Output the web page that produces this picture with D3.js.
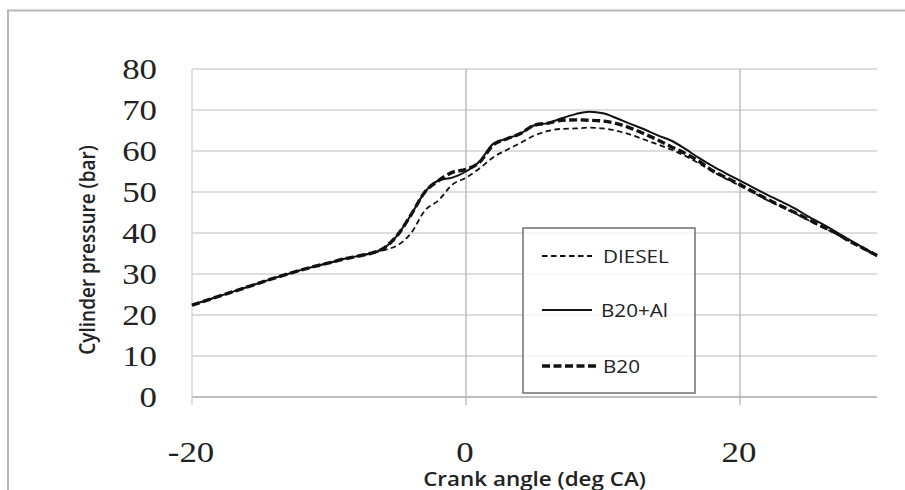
<!DOCTYPE html>
<html>
<head>
<meta charset="utf-8">
<script src="https://cdn.jsdelivr.net/npm/d3@7"></script>
<style>
  html, body { margin: 0; padding: 0; background: #fff; }
  svg { display: block; }
</style>
</head>
<body>
<svg id="chart" width="905" height="490"></svg>
<script>
// Crank angle (deg CA) sampling points
const crankAngle = [-20,-19,-18,-17,-16,-15,-14,-13,-12,-11,-10,-9,-8,-7,-6,-5,-4,-3,-2,-1,
  0,1,2,3,4,5,6,7,8,9,10,11,12,13,14,15,16,17,18,19,20,21,22,23,24,25,26,27,28,29,30];

// Cylinder pressure (bar) for each fuel
const diesel = [22.4,23.5,24.6,25.7,26.8,27.9,29.0,30.0,31.0,31.9,32.7,33.6,34.3,35.0,35.8,37.0,40.0,45.5,48.0,51.8,
  53.5,55.8,58.5,60.3,62.0,63.8,64.9,65.4,65.5,65.7,65.5,64.9,64.0,62.8,61.6,60.3,58.8,57.0,55.0,53.2,
  51.5,49.8,48.0,46.4,44.8,43.1,41.4,39.8,37.9,36.1,34.3];
const b20Al = [22.4,23.5,24.6,25.7,26.8,27.9,29.0,30.0,31.0,31.9,32.7,33.6,34.3,35.0,36.3,39.5,44.5,50.0,52.8,53.5,
  55.0,57.5,61.8,63.0,64.3,66.3,66.8,68.0,69.0,69.6,69.2,68.0,66.6,65.3,63.8,62.5,60.5,58.3,56.3,54.5,
  52.8,51.0,49.3,47.7,46.0,44.0,42.2,40.3,38.3,36.4,34.6];
const b20 = [22.4,23.5,24.6,25.7,26.8,27.9,29.0,30.0,31.0,31.9,32.7,33.6,34.3,35.0,36.3,39.5,44.5,50.0,52.8,54.8,
  55.5,57.3,61.5,63.0,64.3,66.3,66.8,67.5,67.6,67.5,67.3,66.7,65.6,64.2,62.7,61.0,59.4,57.5,55.2,53.5,
  51.8,50.0,48.2,46.6,45.0,43.3,41.6,40.0,38.0,36.3,34.5];

const xTicks = [-20, 0, 20];
const yTicks = [0, 10, 20, 30, 40, 50, 60, 70, 80];
const seriesNames = ["DIESEL", "B20+Al", "B20"];

const svg = d3.select("#chart");
const plot = { left: 192, right: 877, top: 69, bottom: 397 };
const stretch = 1.18;   // the whole figure is widened horizontally

const x = d3.scaleLinear().domain([-20, 30]).range([plot.left, plot.right]);
const y = d3.scaleLinear().domain([0, 80]).range([plot.bottom, plot.top]);

// outer frame (top and left edges)
svg.append("path")
  .attr("d", "M8,490 L8,10.5 L905,10.5")
  .attr("fill", "none").attr("stroke", "#b8b8b8").attr("stroke-width", 2);

// horizontal gridlines
svg.append("g")
  .selectAll("line").data(yTicks).join("line")
  .attr("x1", plot.left).attr("x2", plot.right)
  .attr("y1", d => y(d)).attr("y2", d => y(d))
  .attr("stroke", d => d === 0 ? "#a8a8a8" : "#d2d2d2")
  .attr("stroke-width", 1.3);

// vertical gridlines at the labelled angles, with tick marks below the base
svg.append("g")
  .selectAll("line").data(xTicks).join("line")
  .attr("x1", d => x(d)).attr("x2", d => x(d))
  .attr("y1", plot.top).attr("y2", plot.bottom + 8)
  .attr("stroke", d => d === -20 ? "#cfcfcf" : "#b4b4b4")
  .attr("stroke-width", 1.3);

const serif = "'Liberation Serif', 'Times New Roman', serif";
const sans = "'Open Sans', sans-serif";

// y tick labels
svg.append("g")
  .selectAll("text").data(yTicks).join("text")
  .attr("transform", d => `translate(157,${y(d) + 10}) scale(${stretch},1)`)
  .attr("text-anchor", "end")
  .attr("font-family", serif)
  .attr("font-size", 29.5).attr("fill", "#222")
  .text(d => d);

// x tick labels
svg.append("g")
  .selectAll("text").data(xTicks).join("text")
  .attr("transform", d => `translate(${x(d) - 1},462) scale(${stretch},1)`)
  .attr("text-anchor", "middle")
  .attr("font-family", serif)
  .attr("font-size", 29.5).attr("fill", "#222")
  .text(d => d);

// axis titles
svg.append("text")
  .attr("transform", `translate(${(plot.left + plot.right) / 2},486) scale(${stretch},1)`)
  .attr("text-anchor", "middle")
  .attr("font-family", sans).attr("font-weight", 600)
  .attr("font-size", 19).attr("fill", "#222")
  .text("Crank angle (deg CA)");

svg.append("text")
  .attr("transform", `translate(95,250) scale(${stretch},1) rotate(-90)`)
  .attr("text-anchor", "middle")
  .attr("font-family", sans).attr("font-weight", 600)
  .attr("font-size", 19).attr("fill", "#222")
  .text("Cylinder pressure (bar)");

// pressure curves
const styles = {
  "DIESEL": { width: 1.8, dash: "5.5,3.5" },
  "B20+Al": { width: 2, dash: null },
  "B20":    { width: 3.4, dash: "8,3.5" }
};
const seriesValues = { "DIESEL": diesel, "B20+Al": b20Al, "B20": b20 };

const line = d3.line()
  .x((d, i) => x(crankAngle[i]))
  .y(d => y(d))
  .curve(d3.curveMonotoneX);

svg.append("g")
  .selectAll("path").data(seriesNames).join("path")
  .attr("d", name => line(seriesValues[name]))
  .attr("fill", "none")
  .attr("stroke", "#111")
  .attr("stroke-width", name => styles[name].width)
  .attr("stroke-dasharray", name => styles[name].dash)
  .attr("stroke-linejoin", "round");

// legend
const legend = svg.append("g");
legend.append("rect")
  .attr("x", 523).attr("y", 228).attr("width", 172).attr("height", 165)
  .attr("fill", "#fff").attr("fill-opacity", 0.8)
  .attr("stroke", "#707070").attr("stroke-width", 1.5);

const legendRows = [
  { name: "DIESEL", label: "DIESEL", y: 256, x2: 592, tx: 603 },
  { name: "B20+Al", label: "B20+Al", y: 310, x2: 592, tx: 601 },
  { name: "B20",    label: "B20",    y: 366, x2: 598, tx: 603 }
];
legend.selectAll("line").data(legendRows).join("line")
  .attr("x1", 542).attr("x2", d => d.x2)
  .attr("y1", d => d.y).attr("y2", d => d.y)
  .attr("stroke", "#111")
  .attr("stroke-width", d => styles[d.name].width)
  .attr("stroke-dasharray", d => styles[d.name].dash);
legend.selectAll("text").data(legendRows).join("text")
  .attr("transform", d => `translate(${d.tx},${d.y + 7}) scale(${stretch},1)`)
  .attr("font-family", sans)
  .attr("font-size", 17.5).attr("fill", "#222")
  .text(d => d.label);
</script>
</body>
</html>
